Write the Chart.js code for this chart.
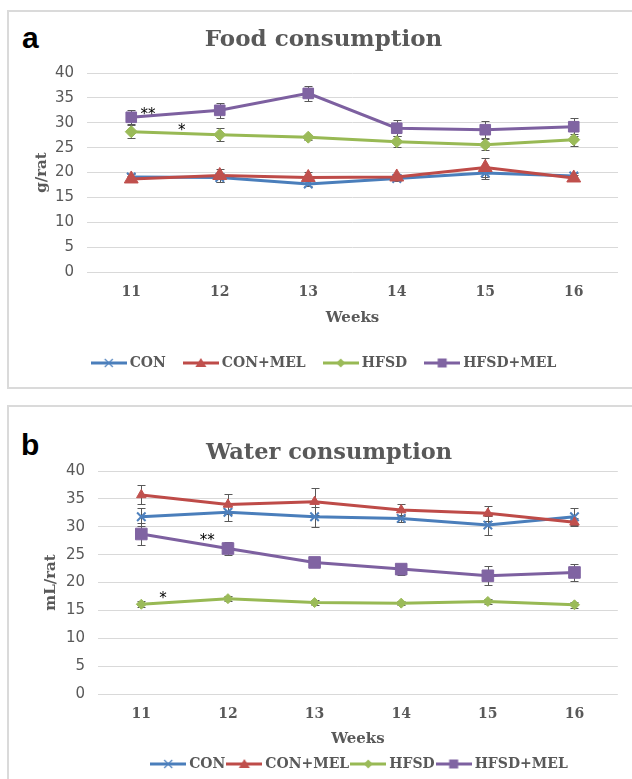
<!DOCTYPE html>
<html><head><meta charset="utf-8">
<script src="https://cdn.jsdelivr.net/npm/chart.js@4.4.1/dist/chart.umd.min.js"></script>
<style>
html,body{margin:0;padding:0;background:#fff;width:632px;height:779px;overflow:hidden;position:relative}
.frame{position:absolute;border:2px solid #dadada;box-sizing:border-box}
#fa{left:7px;top:10px;width:700px;height:379px}
#fb{left:7px;top:405px;width:700px;height:420px}
.lbl{position:absolute;font:bold 30px "Liberation Sans",Arial,sans-serif;line-height:30px;color:#000}
canvas{position:absolute}
</style></head>
<body>
<div class="frame" id="fa"></div>
<div class="frame" id="fb"></div>
<div class="lbl" style="left:22px;top:23px">a</div>
<div class="lbl" style="left:21px;top:430px">b</div>
<canvas id="ca" width="619" height="380" style="left:8px;top:13px"></canvas>
<canvas id="cb" width="619" height="376" style="left:8px;top:406px"></canvas>
<script>
// ---------- data ----------
const WEEKS = ['11', '12', '13', '14', '15', '16'];
const SERIES = ['CON', 'CON+MEL', 'HFSD', 'HFSD+MEL'];

const FOOD_CON      = [19.1, 19.0, 17.7, 18.8, 19.9, 19.3];
const FOOD_CON_MEL  = [18.7, 19.4, 19.0, 19.1, 21.0, 18.9];
const FOOD_HFSD     = [28.2, 27.6, 27.1, 26.2, 25.6, 26.6];
const FOOD_HFSD_MEL = [31.1, 32.5, 35.9, 28.9, 28.6, 29.2];
const FOOD_CON_SD      = [0.6, 1.0, 0.5, 0.5, 1.2, 0.6];
const FOOD_CON_MEL_SD  = [0.6, 1.3, 1.1, 0.5, 1.9, 0.6];
const FOOD_HFSD_SD     = [1.3, 1.3, 0.5, 1.1, 1.1, 1.2];
const FOOD_HFSD_MEL_SD = [1.4, 1.5, 1.5, 1.6, 1.7, 1.8];

const WATER_CON      = [31.8, 32.6, 31.8, 31.5, 30.3, 31.8];
const WATER_CON_MEL  = [35.7, 34.0, 34.5, 33.0, 32.4, 30.8];
const WATER_HFSD     = [16.1, 17.1, 16.4, 16.3, 16.6, 16.0];
const WATER_HFSD_MEL = [28.7, 26.1, 23.6, 22.4, 21.2, 21.8];
const WATER_CON_SD      = [1.6, 1.6, 1.8, 0.6, 1.7, 1.5];
const WATER_CON_MEL_SD  = [1.7, 1.8, 2.4, 1.0, 1.3, 0.7];
const WATER_HFSD_SD     = [0.5, 0.4, 0.4, 0.4, 0.5, 0.5];
const WATER_HFSD_MEL_SD = [2.0, 1.2, 0.6, 1.0, 1.7, 1.6];

const Y_TICKS = [0, 5, 10, 15, 20, 25, 30, 35, 40];

// significance marks (x as category position, y as value)
const FOOD_STAR_X = [0.19, 0.57];
const FOOD_STAR_Y = [32.5, 29.2];
const FOOD_STAR_TEXT = ['**', '*'];
const WATER_STAR_X = [0.76, 0.25];
const WATER_STAR_Y = [28.3, 17.9];
const WATER_STAR_TEXT = ['**', '*'];

// ---------- styles ----------
const LINE_COLORS = ['#4a7ebb', '#be4b48', '#98b954', '#7d60a0'];
const FILL_COLORS = ['#4f81bd', '#c0504d', '#9bbb59', '#8064a2'];
const POINT_STYLES = ['crossRot', 'triangle', 'rectRot', 'rect'];
const GREY = '#595959';
const SERIF = '"DejaVu Serif", serif';
const SANS = '"DejaVu Sans", sans-serif';

function legendImage(i) {
  const c = document.createElement('canvas');
  c.width = 36; c.height = 14;
  const g = c.getContext('2d');
  g.strokeStyle = LINE_COLORS[i]; g.fillStyle = FILL_COLORS[i];
  g.lineWidth = 3;
  g.beginPath(); g.moveTo(0, 7); g.lineTo(36, 7); g.stroke();
  const cx = 18, cy = 7;
  g.beginPath();
  const s = POINT_STYLES[i];
  if (s === 'crossRot') {
    g.lineWidth = 1.2; g.strokeStyle = FILL_COLORS[i];
    g.moveTo(cx - 4, cy - 4); g.lineTo(cx + 4, cy + 4);
    g.moveTo(cx + 4, cy - 4); g.lineTo(cx - 4, cy + 4); g.stroke();
  } else if (s === 'triangle') {
    g.moveTo(cx, cy - 5); g.lineTo(cx + 5.5, cy + 4); g.lineTo(cx - 5.5, cy + 4); g.closePath(); g.fill();
  } else if (s === 'rectRot') {
    g.moveTo(cx, cy - 4.5); g.lineTo(cx + 4.5, cy); g.lineTo(cx, cy + 4.5); g.lineTo(cx - 4.5, cy); g.closePath(); g.fill();
  } else {
    g.rect(cx - 4.5, cy - 4.5, 9, 9); g.fill();
  }
  return c;
}
const LEGEND_IMGS = [0, 1, 2, 3].map(legendImage);

const errorBars = {
  id: 'errorBars',
  beforeDatasetsDraw(chart) {
    const {ctx, scales: {x, y}} = chart;
    ctx.save();
    ctx.strokeStyle = GREY; ctx.lineWidth = 1;
    chart.data.datasets.forEach(ds => {
      if (!ds.errors) return;
      ds.data.forEach((v, j) => {
        const e = ds.errors[j];
        const px = Math.round(x.getPixelForValue(j)) + 0.5;
        const t = Math.round(y.getPixelForValue(v + e)) + 0.5;
        const b = Math.round(y.getPixelForValue(v - e)) + 0.5;
        ctx.beginPath();
        ctx.moveTo(px, t); ctx.lineTo(px, b);
        ctx.moveTo(px - 4, t); ctx.lineTo(px + 4, t);
        ctx.moveTo(px - 4, b); ctx.lineTo(px + 4, b);
        ctx.stroke();
      });
    });
    ctx.restore();
  }
};

const stars = {
  id: 'stars',
  afterDatasetsDraw(chart, args, opts) {
    const {ctx, scales: {x, y}} = chart;
    ctx.save();
    ctx.fillStyle = '#000';
    ctx.font = '15px ' + SANS;
    ctx.textAlign = 'center';
    ctx.textBaseline = 'alphabetic';
    opts.text.forEach((t, k) => {
      ctx.fillText(t, x.getPixelForValue(opts.x[k]), y.getPixelForValue(opts.y[k]) + 8.4);
    });
    ctx.restore();
  }
};

const shiftBoxes = {
  id: 'shiftBoxes',
  afterLayout(chart, args, opts) {
    const t = chart.titleBlock, l = chart.legend;
    if (t) { t.left += opts.title; t.right += opts.title; }
    if (l) { l.left += opts.legend; l.right += opts.legend; }
  }
};

function makeChart(id, cfg) {
  const datasets = cfg.values.map((vals, i) => ({
    label: SERIES[i],
    data: vals,
    errors: cfg.errors[i],
    borderColor: LINE_COLORS[i],
    backgroundColor: FILL_COLORS[i],
    borderWidth: 3,
    pointStyle: POINT_STYLES[i],
    pointRadius: cfg.radii[i],
    pointBackgroundColor: FILL_COLORS[i],
    pointBorderColor: FILL_COLORS[i],
    pointBorderWidth: i === 0 ? 2 : 1,
    tension: 0,
    order: 3 - i
  }));
  return new Chart(document.getElementById(id), {
    type: 'line',
    data: {labels: WEEKS, datasets},
    plugins: [errorBars, stars, shiftBoxes],
    options: {
      responsive: false,
      animation: false,
      events: [],
      layout: {padding: cfg.pad},
      plugins: {
        tooltip: {enabled: false},
        title: {
          display: true, text: cfg.title, color: GREY,
          font: {family: SERIF, size: cfg.titleSize, weight: 'bold'},
          padding: cfg.titlePad
        },
        legend: {
          position: 'bottom',
          labels: {
            color: GREY,
            font: {family: SERIF, size: 14, weight: 'bold'},
            usePointStyle: true,
            pointStyleWidth: 28,
            padding: cfg.legendPad,
            generateLabels: (chart) => chart.data.datasets.map((ds, i) => ({
              text: ds.label, pointStyle: LEGEND_IMGS[i], fillStyle: FILL_COLORS[i],
              strokeStyle: FILL_COLORS[i], lineWidth: 0, hidden: false, datasetIndex: i, fontColor: GREY
            }))
          }
        },
        stars: {x: cfg.starX, y: cfg.starY, text: cfg.starText},
        shiftBoxes: cfg.shift
      },
      scales: {
        x: {
          offset: true,
          grid: {display: false, drawTicks: false},
          border: {display: false},
          ticks: {color: GREY, font: {family: SERIF, size: 14, weight: 'bold'}, padding: cfg.xTickPad},
          title: {display: true, text: 'Weeks', color: GREY, font: {family: SERIF, size: 15, weight: 'bold'}, padding: {top: 0, bottom: cfg.weeksPad}},
          afterFit: (s) => { s.height = cfg.xHeight; }
        },
        y: {
          min: 0, max: 40,
          afterBuildTicks: (s) => { s.ticks = Y_TICKS.map(v => ({value: v})); },
          grid: {color: '#d9d9d9', lineWidth: 1, drawTicks: false},
          border: {display: false},
          ticks: {color: GREY, font: {family: SANS, size: 15}, padding: cfg.yTickPad},
          title: {display: true, text: cfg.yTitle, color: GREY, font: {family: SERIF, size: 15, weight: 'bold'}, padding: {top: cfg.yTitlePad, bottom: 0}},
          afterFit: (s) => { s.width = cfg.yWidth; }
        }
      }
    }
  });
}

makeChart('ca', {
  title: 'Food consumption', yTitle: 'g/rat', titleSize: 23,
  values: [FOOD_CON, FOOD_CON_MEL, FOOD_HFSD, FOOD_HFSD_MEL],
  errors: [FOOD_CON_SD, FOOD_CON_MEL_SD, FOOD_HFSD_SD, FOOD_HFSD_MEL_SD],
  radii: [6, 8, 6, 7.5],
  starX: FOOD_STAR_X, starY: FOOD_STAR_Y, starText: FOOD_STAR_TEXT,
  pad: {left: 0, right: 8, top: 0, bottom: 13},
  titlePad: {top: 13.2, bottom: 19.2},
  legendPad: 21,
  xHeight: 63, weeksPad: 7.5, xTickPad: 12,
  yWidth: 79, yTickPad: 13, yTitlePad: 25,
  shift: {title: 10, legend: 12}
});

makeChart('cb', {
  title: 'Water consumption', yTitle: 'mL/rat', titleSize: 22.5,
  values: [WATER_CON, WATER_CON_MEL, WATER_HFSD, WATER_HFSD_MEL],
  errors: [WATER_CON_SD, WATER_CON_MEL_SD, WATER_HFSD_SD, WATER_HFSD_MEL_SD],
  radii: [6, 5.5, 5, 8.2],
  starX: WATER_STAR_X, starY: WATER_STAR_Y, starText: WATER_STAR_TEXT,
  pad: {left: 0, right: 7, top: 0, bottom: 1},
  titlePad: {top: 33.5, bottom: 4.5},
  legendPad: 5,
  xHeight: 58, weeksPad: 4, xTickPad: 12,
  yWidth: 90, yTickPad: 13, yTitlePad: 34,
  shift: {title: 15, legend: 47}
});
</script>
</body></html>
